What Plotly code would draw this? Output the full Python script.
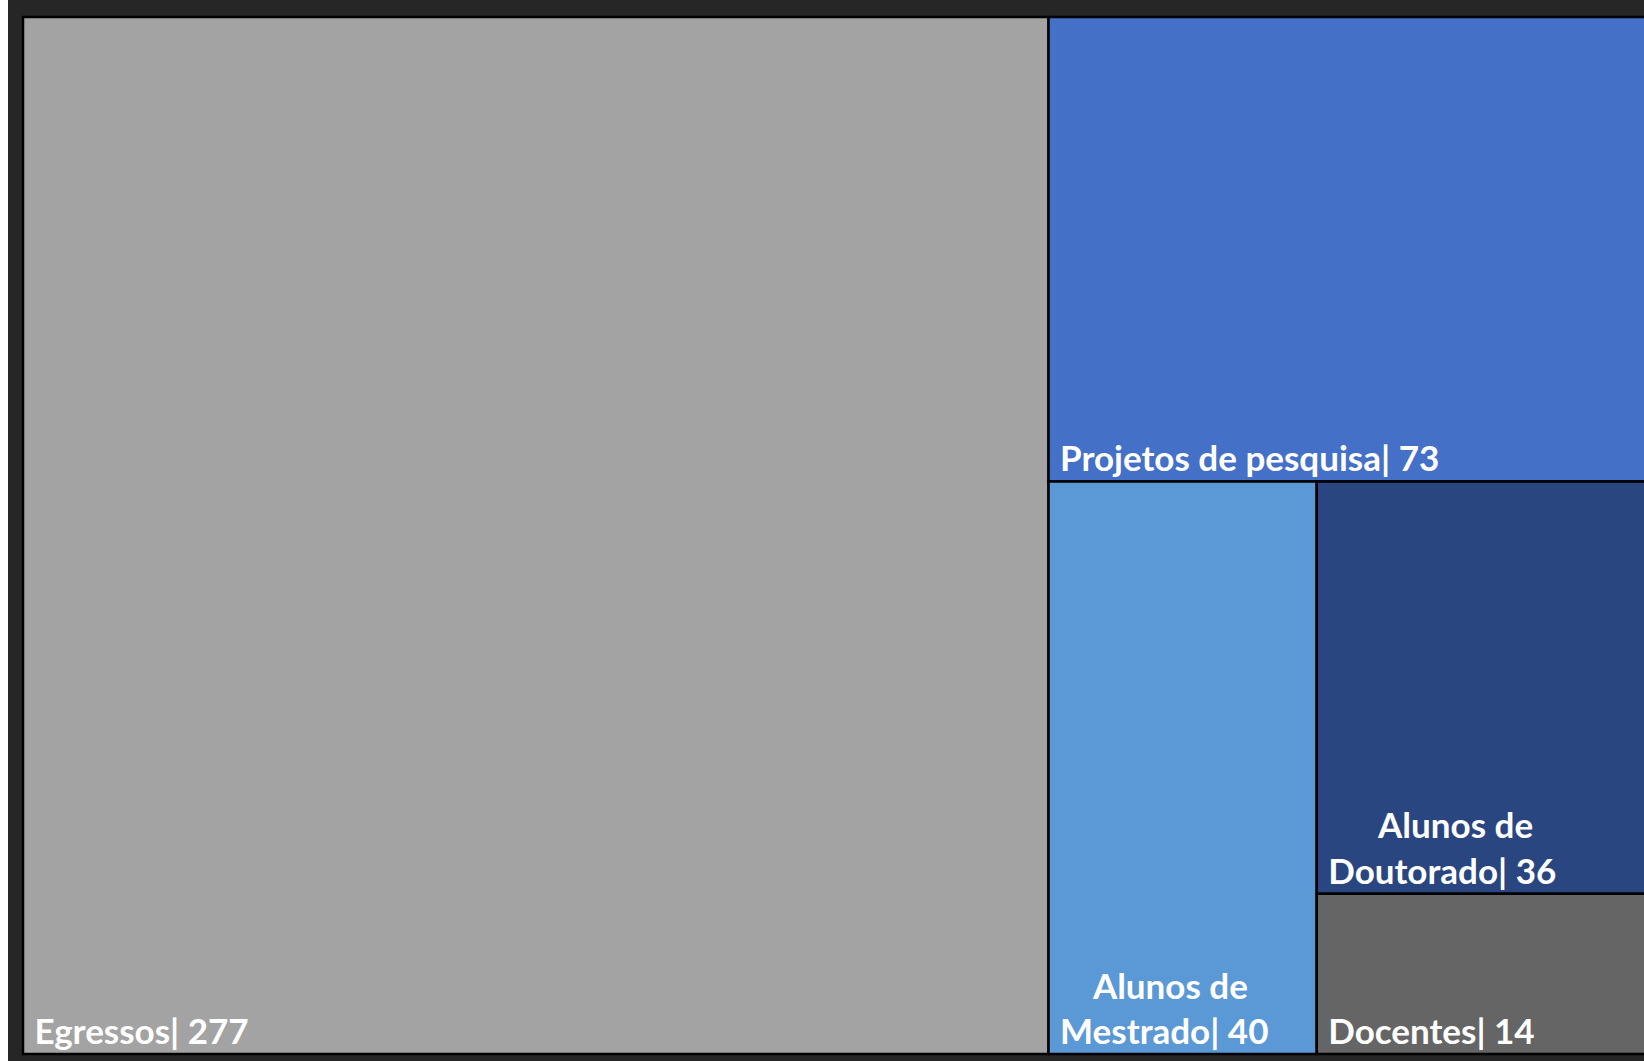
import plotly.graph_objects as go

NB = "\u00a0"
labels = [NB + "Egressos",
          NB + "Projetos de pesquisa",
          NB * 5 + "Alunos de<br>" + NB + "Mestrado",
          NB * 7 + "Alunos de<br>" + NB + "Doutorado",
          NB + "Docentes"]
values = [277, 73, 40, 36, 14]
colors = ["#a3a3a3", "#4470c8", "#5b98d6", "#2a4680", "#656565"]

fig = go.Figure(go.Treemap(
    labels=labels,
    parents=[""] * len(labels),
    values=values,
    sort=False,
    marker=dict(colors=colors, line=dict(color="#000000", width=2.5),
                pad=dict(t=0, l=0, r=0, b=0)),
    texttemplate="<b>%{label}| %{value}</b>",
    textposition="bottom left",
    textfont=dict(family="Lato, Open Sans, sans-serif", size=35, color="#ffffff"),
    tiling=dict(packing="binary", pad=0),
    pathbar=dict(visible=False),
    hoverinfo="label+value",
))

fig.update_layout(
    width=1644, height=1061,
    margin=dict(l=15, r=0, t=17, b=7),
    paper_bgcolor="#262626",
)

fig.write_html(
    "out.html",
    post_script="document.body.style.marginTop='0px';"
                "document.body.style.marginBottom='0px';"
                "document.body.style.marginRight='0px';"
                "var c=document.getElementById('{plot_id}').parentElement;"
                "c.style.width='1636px';c.style.overflow='hidden';"
                "document.documentElement.style.overflow='hidden';"
                "document.body.style.overflow='hidden';",
)
